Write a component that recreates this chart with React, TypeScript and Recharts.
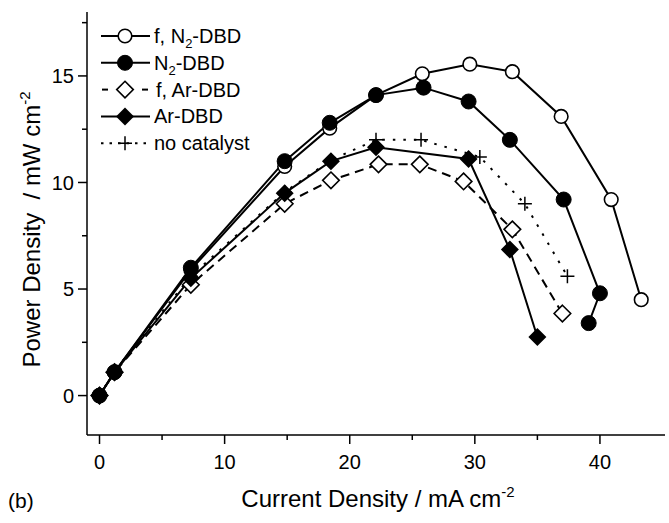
import React from 'react';
import { LineChart, Line, XAxis, YAxis, Label } from 'recharts';

const FONT = '"Liberation Sans", Arial, Helvetica, sans-serif';

// f, N2-DBD (open circles)
const fN2X = [0, 1.2, 7.3, 14.8, 18.4, 22.1, 25.8, 29.6, 33.0, 36.9, 40.9, 43.3];
const fN2Y = [0, 1.1, 5.9, 10.75, 12.55, 14.1, 15.1, 15.55, 15.2, 13.1, 9.2, 4.5];
// N2-DBD (filled circles)
const n2X = [0, 1.2, 7.3, 14.8, 18.4, 22.1, 25.9, 29.5, 32.8, 37.1, 40.0, 39.1];
const n2Y = [0, 1.1, 6.0, 11.0, 12.8, 14.1, 14.45, 13.8, 12.0, 9.2, 4.8, 3.4];
// f, Ar-DBD (open diamonds)
const fArX = [0, 1.2, 7.3, 14.8, 18.5, 22.3, 25.6, 29.1, 33.0, 37.0];
const fArY = [0, 1.1, 5.2, 9.0, 10.1, 10.85, 10.85, 10.05, 7.8, 3.85];
// Ar-DBD (filled diamonds)
const arX = [0, 1.2, 7.3, 14.8, 18.5, 22.1, 29.5, 32.8, 35.0];
const arY = [0, 1.1, 5.5, 9.5, 11.0, 11.65, 11.1, 6.85, 2.75];
// no catalyst (plus)
const ncX = [0, 1.2, 7.3, 14.8, 18.5, 22.1, 25.7, 30.4, 34.0, 37.4];
const ncY = [0, 1.15, 5.6, 9.55, 11.05, 12.0, 12.0, 11.2, 9.0, 5.6];

const xTicks = [0, 5, 10, 15, 20, 25, 30, 35, 40];
const xMajor = [0, 10, 20, 30, 40];
const yTicks = [0, 2.5, 5, 7.5, 10, 12.5, 15, 17.5];
const yMajor = [0, 5, 10, 15];

const legendLabels = ['f, N2-DBD', 'N2-DBD', 'f, Ar-DBD', 'Ar-DBD', 'no catalyst'];

const zip = (xs: number[], ys: number[]) => xs.map((x, i) => ({ x, y: ys[i] }));

type Shape = 'openCircle' | 'circle' | 'openDiamond' | 'diamond' | 'plus';

const series: { data: { x: number; y: number }[]; shape: Shape; dash?: string }[] = [
  { data: zip(fN2X, fN2Y), shape: 'openCircle' },
  { data: zip(n2X, n2Y), shape: 'circle' },
  { data: zip(fArX, fArY), shape: 'openDiamond', dash: '9 6' },
  { data: zip(arX, arY), shape: 'diamond' },
  { data: zip(ncX, ncY), shape: 'plus', dash: '2.5 8' },
];

function Marker({ shape, cx, cy }: { shape: Shape; cx: number; cy: number }) {
  if (cx == null || cy == null) return null;
  switch (shape) {
    case 'openCircle':
      return <circle cx={cx} cy={cy} r={6.8} fill="#fff" stroke="#000" strokeWidth={1.6} />;
    case 'circle':
      return <circle cx={cx} cy={cy} r={7.5} fill="#000" stroke="#000" strokeWidth={1} />;
    case 'openDiamond': {
      const s = 8.3;
      return (
        <path
          d={`M${cx},${cy - s}L${cx + s},${cy}L${cx},${cy + s}L${cx - s},${cy}Z`}
          fill="#fff"
          stroke="#000"
          strokeWidth={1.6}
        />
      );
    }
    case 'diamond': {
      const s = 9;
      return <path d={`M${cx},${cy - s}L${cx + s},${cy}L${cx},${cy + s}L${cx - s},${cy}Z`} fill="#000" />;
    }
    case 'plus': {
      const s = 7;
      return (
        <path
          d={`M${cx - s},${cy}H${cx + s}M${cx},${cy - s}V${cy + s}`}
          stroke="#000"
          strokeWidth={1.5}
          fill="none"
        />
      );
    }
  }
  return null;
}

const XTick = (props: any) => {
  const { x, y, payload } = props;
  const v = payload.value;
  const major = xMajor.includes(v);
  return (
    <g>
      <line x1={x} x2={x} y1={y} y2={y + (major ? 9 : 5)} stroke="#000" strokeWidth={1.5} />
      {major && (
        <text x={x} y={y + 34} textAnchor="middle" fontSize={20} fontFamily={FONT} fill="#000">
          {v}
        </text>
      )}
    </g>
  );
};

const YTick = (props: any) => {
  const { x, y, payload } = props;
  const v = payload.value;
  const major = yMajor.includes(v);
  return (
    <g>
      <line x1={x} x2={x - (major ? 9 : 5)} y1={y} y2={y} stroke="#000" strokeWidth={1.5} />
      {major && (
        <text x={x - 13} y={y} dy="0.36em" textAnchor="end" fontSize={20} fontFamily={FONT} fill="#000">
          {v}
        </text>
      )}
    </g>
  );
};

function renderLabel(text: string) {
  const idx = text.indexOf('N2');
  if (idx < 0) return text;
  return (
    <>
      {text.slice(0, idx + 1)}
      <tspan dy={5} fontSize={13}>2</tspan>
      <tspan dy={-5}>{text.slice(idx + 2)}</tspan>
    </>
  );
}

function LegendBox() {
  const rowY = (i: number) => 36 + i * 26.8;
  return (
    <svg
      width={260}
      height={170}
      style={{ position: 'absolute', left: 0, top: 0, overflow: 'visible' }}
    >
      {series.map((s, i) => {
        const cy = rowY(i);
        let line: React.ReactNode;
        if (s.shape === 'openDiamond') {
          line = (
            <g stroke="#000" strokeWidth={2}>
              <line x1={102} x2={108} y1={cy} y2={cy} />
              <line x1={142} x2={148} y1={cy} y2={cy} />
            </g>
          );
        } else if (s.shape === 'plus') {
          line = <line x1={101} x2={151} y1={cy} y2={cy} stroke="#000" strokeWidth={2} strokeDasharray="2.5 6" />;
        } else {
          line = <line x1={101} x2={150} y1={cy} y2={cy} stroke="#000" strokeWidth={2} />;
        }
        return (
          <g key={i}>
            {line}
            <Marker shape={s.shape} cx={125} cy={cy} />
            <text x={s.shape === 'openDiamond' ? 156 : 154} y={cy + 7} fontSize={20} fontFamily={FONT} fill="#000">
              {renderLabel(legendLabels[i])}
            </text>
          </g>
        );
      })}
    </svg>
  );
}

export default function App() {
  return (
    <div style={{ position: 'absolute', left: 0, top: 0, width: 669, height: 523, background: '#fff' }}>
      <LineChart width={669} height={523} margin={{ top: 12, right: 4, bottom: 0, left: 0 }}>
        <XAxis
          xAxisId="main"
          type="number"
          dataKey="x"
          domain={[-1, 45.2]}
          ticks={xTicks}
          allowDataOverflow
          height={88}
          tickSize={0}
          tickMargin={0}
          tickLine={false}
          tick={<XTick />}
          axisLine={{ stroke: '#000', strokeWidth: 1.5 }}
          interval={0}
        >
          <Label
            content={(p: any) => {
              const vb = p.viewBox || { x: 87, width: 578 };
              const cx = vb.x + vb.width / 2 + 2;
              return (
                <g fontFamily={FONT} fill="#000">
                  <text x={cx} y={507} textAnchor="middle" fontSize={24}>
                    Current Density / mA cm
                    <tspan dy={-10} fontSize={15}>
                      -2
                    </tspan>
                  </text>
                  <text x={8} y={508} fontSize={21}>
                    (b)
                  </text>
                </g>
              );
            }}
          />
        </XAxis>
        <XAxis
          xAxisId="top"
          orientation="top"
          type="number"
          domain={[-1, 45.2]}
          allowDataOverflow
          height={0}
          tick={false}
          tickLine={false}
          axisLine={{ stroke: '#000', strokeWidth: 1.5 }}
        />
        <YAxis
          yAxisId="main"
          type="number"
          domain={[-1.85, 18]}
          ticks={yTicks}
          allowDataOverflow
          width={87}
          tickSize={0}
          tickMargin={0}
          tickLine={false}
          tick={<YTick />}
          axisLine={{ stroke: '#000', strokeWidth: 1.5 }}
          interval={0}
        >
          <Label
            content={(p: any) => {
              const vb = p.viewBox || { y: 12, height: 423 };
              const cy = vb.y + vb.height / 2 + 6;
              return (
                <text
                  transform={`translate(40, ${cy}) rotate(-90)`}
                  textAnchor="middle"
                  fontSize={24}
                  fontFamily={FONT}
                  fill="#000"
                >
                  Power Density{'\u00a0'} / mW cm
                  <tspan dy={-10} fontSize={15}>
                    -2
                  </tspan>
                </text>
              );
            }}
          />
        </YAxis>
        <YAxis
          yAxisId="right"
          orientation="right"
          type="number"
          domain={[-1.85, 18]}
          allowDataOverflow
          width={0}
          tick={false}
          tickLine={false}
          axisLine={{ stroke: '#000', strokeWidth: 1.5 }}
        />
        {series.map((s, i) => (
          <Line
            key={i}
            xAxisId="main"
            yAxisId="main"
            data={s.data}
            dataKey="y"
            type="linear"
            stroke="#000"
            strokeWidth={2}
            strokeDasharray={s.dash}
            isAnimationActive={false}
            dot={(p: any) => <Marker key={`d${i}-${p.index}`} shape={s.shape} cx={p.cx} cy={p.cy} />}
            activeDot={false}
          />
        ))}
      </LineChart>
      <LegendBox />
    </div>
  );
}
